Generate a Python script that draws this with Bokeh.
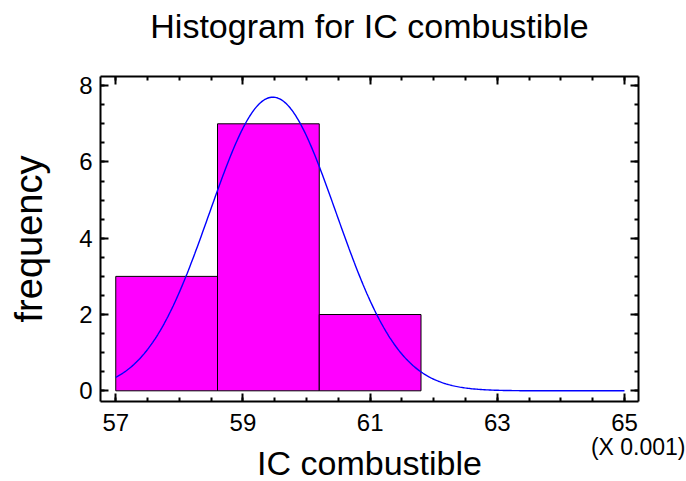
import numpy as np
from bokeh.plotting import figure
from bokeh.models import (LinearAxis, FixedTicker, Range1d, Title, CustomJSTickFormatter)
from bokeh.embed import file_html
from bokeh.resources import INLINE

# Data (IC combustible, in units of 0.001)
bin_left = [57.0, 58.6, 60.2]
bin_right = [58.6, 60.2, 61.8]
counts = [3, 7, 2]
fit_mean = 59.47
fit_sd = 0.995
curve_start = 57.0
curve_end = 65.0
x_ticks = [57, 59, 61, 63, 65]
y_ticks = [0, 2, 4, 6, 8]

FONT = "Liberation Sans"
W, H = 686, 481

p = figure(width=W, height=H, output_backend="svg", toolbar_location=None,
           x_range=Range1d(56.76, 65.22), y_range=Range1d(-0.28, 8.24),
           x_axis_location=None, y_axis_location=None, title=None,
           min_border_left=100, min_border_right=48, min_border_top=76, min_border_bottom=80)
p.grid.visible = False
p.outline_line_color = None
p.background_fill_color = "white"
p.border_fill_color = "white"

# Histogram bars
p.quad(left=bin_left, right=bin_right, bottom=0, top=counts,
       fill_color="#FF00FF", line_color="black", line_width=1)

# Fitted normal curve
n = sum(counts)
bw = bin_right[0] - bin_left[0]
xs = np.linspace(curve_start, curve_end, 400)
ys = n * bw * np.exp(-0.5 * ((xs - fit_mean) / fit_sd) ** 2) / (fit_sd * np.sqrt(2 * np.pi))
p.line(xs, ys, line_color="#0000FF", line_width=1.4)

x_minor = [57 + 0.5 * i for i in range(17)]
y_minor = [0.5 * i for i in range(17)]

def style(ax, labels=True):
    ax.axis_line_width = 2
    ax.axis_line_color = "black"
    ax.major_tick_line_width = 2
    ax.minor_tick_line_width = 2
    ax.major_tick_in = 8
    ax.major_tick_out = 0
    ax.minor_tick_in = 4
    ax.minor_tick_out = 0
    ax.major_label_text_font = FONT
    ax.major_label_text_font_size = "24px"
    ax.major_label_text_color = "black"
    ax.axis_label_text_font = FONT
    ax.axis_label_text_font_size = "34px"
    ax.axis_label_text_font_style = "normal"
    ax.axis_label_text_color = "black"
    if not labels:
        ax.formatter = CustomJSTickFormatter(code="return ''")
        ax.major_label_standoff = 0

xb = LinearAxis(ticker=FixedTicker(ticks=x_ticks, minor_ticks=x_minor))
style(xb)
xb.major_label_standoff = 12
# top axis carries the chart title as its label
xt = LinearAxis(ticker=FixedTicker(ticks=x_ticks, minor_ticks=x_minor),
                axis_label="Histogram for IC combustible")
style(xt, labels=False)
xt.axis_label_standoff = 32
yl = LinearAxis(ticker=FixedTicker(ticks=y_ticks, minor_ticks=y_minor), axis_label="frequency")
style(yl)
yl.axis_label_text_font_size = "38px"
yl.major_label_standoff = 8
yl.axis_label_standoff = 26
yr = LinearAxis(ticker=FixedTicker(ticks=y_ticks, minor_ticks=y_minor))
style(yr, labels=False)

p.add_layout(xb, "below")
p.add_layout(xt, "above")
p.add_layout(yl, "left")
p.add_layout(yr, "right")

# Texts below the x axis: the scale note, then the axis title
p.add_layout(Title(text="(X 0.001)", align="right", offset=-47, standoff=0,
                   vertical_align="top",
                   text_font=FONT, text_font_size="23px", text_font_style="normal",
                   text_color="black"), "below")
p.add_layout(Title(text="IC combustible", align="center", standoff=-36,
                   vertical_align="top",
                   text_font=FONT, text_font_size="34px", text_font_style="normal",
                   text_color="black"), "below")

open("out.html", "w").write(file_html(p, INLINE))
